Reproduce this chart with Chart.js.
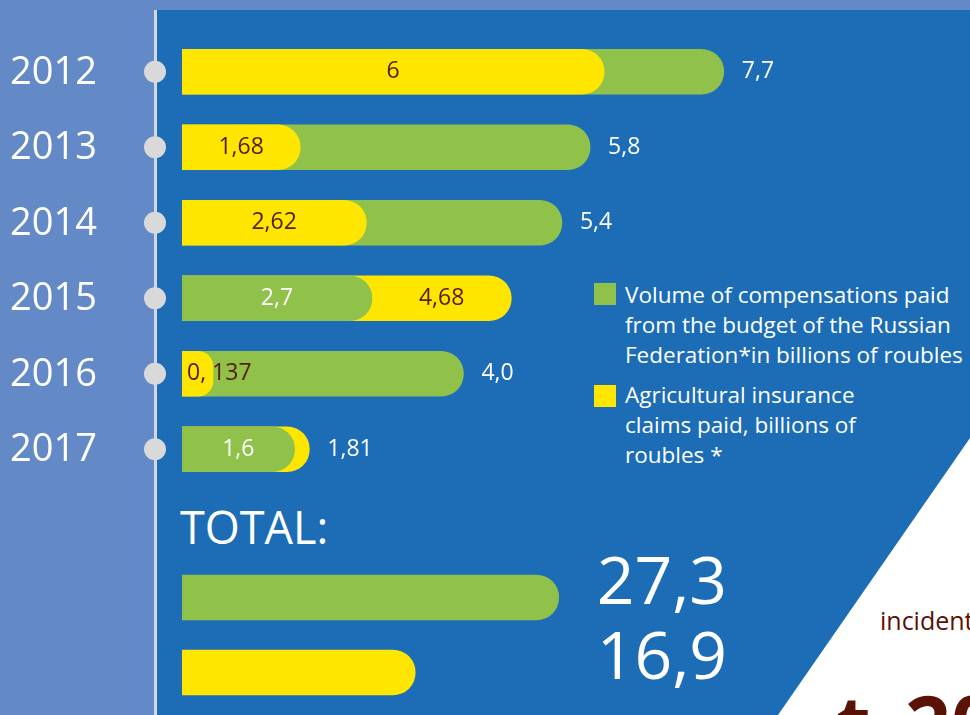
<!DOCTYPE html>
<html>
<head>
<meta charset="utf-8">
<script src="https://cdn.jsdelivr.net/npm/chart.js@4.4.0/dist/chart.umd.min.js"></script>
<style>
body{margin:0;width:970px;height:715px;overflow:hidden;background:#6389c6;font-family:"Open Sans",sans-serif;position:relative}
#dark{position:absolute;left:157px;top:10px;right:0;bottom:0;background:#1c6db6}
#tri{position:absolute;left:0;top:0;width:970px;height:715px;background:#fff;clip-path:polygon(970px 438px,970px 715px,778px 715px)}
#vline{position:absolute;left:154px;top:10px;width:3px;bottom:0;background:#d3d9e3}
.box{position:absolute;left:0;width:970px}
#years_box{top:0;height:495px}
#total_box{top:495px;height:220px}
#total_title{position:absolute;left:180px;top:497px;font-size:45px;color:#fff;line-height:60px}
.leg{position:absolute;left:594px;color:#fff;font-size:22.5px;line-height:30px}
.leg .sw{position:absolute;left:0;width:22px;height:22px}
.leg .lt{position:absolute;left:31px;white-space:nowrap}
#incid{position:absolute;left:880px;top:603px;font-size:25px;color:#5a1205;white-space:nowrap}
.big{position:absolute;top:683px;font-size:80px;line-height:80px;font-weight:bold;color:#5a1205}
</style>
</head>
<body>
<div id="dark"></div>
<div id="tri"></div>
<div id="vline"></div>
<div id="total_title">TOTAL:</div>
<div class="leg" style="top:283px"><span class="sw" style="background:#8fc14b"></span><div class="lt" style="top:-3px">Volume of compensations paid<br>from the budget of the Russian<br>Federation*in billions of roubles</div></div>
<div class="leg" style="top:385px"><span class="sw" style="background:#ffe600"></span><div class="lt" style="top:-5px">Agricultural insurance<br>claims paid, billions of<br>roubles *</div></div>
<div id="incid">incidents</div>
<div class="big" style="left:836px">t</div>
<div class="big" style="left:905px">20</div>
<div class="box" id="years_box"><canvas id="years_chart"></canvas></div>
<div class="box" id="total_box"><canvas id="total_chart"></canvas></div>
<script>
const years = ['2012', '2013', '2014', '2015', '2016', '2017'];
const budgetPaid = [7.7, 5.8, 5.4, 2.7, 4.0, 1.6];
const insurancePaid = [6, 1.68, 2.62, 4.68, 0.137, 1.81];
const budgetLabels = ['7,7', '5,8', '5,4', '2,7', '4,0', '1,6'];
const insuranceLabels = ['6', '1,68', '2,62', '4,68', '0, 137', '1,81'];

const totalNames = ['budget', 'insurance'];
const totalValues = [27.3, 16.9];
const totalLabels = ['27,3', '16,9'];

const GREEN = '#8fc14b';
const YELLOW = '#ffe600';
const DARKRED = '#5b1a08';

// the longer bar goes behind, the shorter one in front
let greenBack = [], backData = [], frontData = [], backColors = [], frontColors = [];
for (let i = 0; i < years.length; i++) {
    let gb = budgetPaid[i] >= insurancePaid[i];
    greenBack.push(gb);
    backData.push(gb ? budgetPaid[i] : insurancePaid[i]);
    frontData.push(gb ? insurancePaid[i] : budgetPaid[i]);
    backColors.push(gb ? GREEN : YELLOW);
    frontColors.push(gb ? YELLOW : GREEN);
}

Chart.defaults.font.family = '"Open Sans", sans-serif';

const yearDecor = {
    id: 'yearDecor',
    afterDatasetsDraw(chart) {
        const ctx = chart.ctx;
        const ys = chart.scales.y;
        const back = chart.getDatasetMeta(0).data;
        const front = chart.getDatasetMeta(1).data;
        ctx.save();
        for (let i = 0; i < years.length; i++) {
            let y = ys.getPixelForValue(i);
            // year label and dot
            ctx.fillStyle = '#fff';
            ctx.font = '38px "Open Sans"';
            ctx.textAlign = 'left';
            ctx.textBaseline = 'middle';
            ctx.fillText(years[i], 10, y + 1);
            ctx.fillStyle = '#d9d9d9';
            ctx.beginPath();
            ctx.arc(155, y, 11, 0, Math.PI * 2);
            ctx.fill();

            ctx.font = '23px "Open Sans"';
            let fb = front[i], bb = back[i];
            let fText = greenBack[i] ? insuranceLabels[i] : budgetLabels[i];
            let bText = greenBack[i] ? budgetLabels[i] : insuranceLabels[i];
            let fw = ctx.measureText(fText).width;
            ctx.fillStyle = greenBack[i] ? DARKRED : '#fff';
            if (fb.x - fb.base > fw + 10) {
                ctx.textAlign = 'center';
                ctx.fillText(fText, (fb.x + fb.base) / 2, y);
            } else {
                ctx.textAlign = 'left';
                ctx.fillText(fText, fb.base + 5, y);
            }
            let bw = ctx.measureText(bText).width;
            if (!greenBack[i] && bb.x - fb.x > bw + 20) {
                ctx.fillStyle = DARKRED;
                ctx.textAlign = 'center';
                ctx.fillText(bText, (bb.x + fb.x) / 2, y);
            } else {
                ctx.fillStyle = '#fff';
                ctx.textAlign = 'left';
                ctx.fillText(bText, bb.x + 18, y);
            }
        }
        ctx.restore();
    }
};

new Chart(document.getElementById('years_chart'), {
    type: 'bar',
    data: {
        labels: years,
        datasets: [{
            label: 'back',
            data: backData,
            backgroundColor: backColors,
            order: 1
        }, {
            label: 'front',
            data: frontData,
            backgroundColor: frontColors,
            minBarLength: 31,
            order: 0
        }]
    },
    options: {
        indexAxis: 'y',
        responsive: true,
        maintainAspectRatio: false,
        animation: false,
        layout: { padding: { left: 182, right: 14, top: 34, bottom: 8 } },
        datasets: { bar: { grouped: false, barThickness: 45, borderRadius: 23, borderSkipped: 'start' } },
        scales: {
            x: { display: false, min: 0, max: 11 },
            y: { display: false }
        },
        plugins: { legend: { display: false }, tooltip: { enabled: false } }
    },
    plugins: [yearDecor]
});

const totalDecor = {
    id: 'totalDecor',
    afterDatasetsDraw(chart) {
        const ctx = chart.ctx;
        const bars = chart.getDatasetMeta(0).data;
        ctx.save();
        ctx.fillStyle = '#fff';
        ctx.font = '66px "Open Sans"';
        ctx.textAlign = 'right';
        ctx.textBaseline = 'middle';
        for (let i = 0; i < bars.length; i++) {
            ctx.fillText(totalLabels[i], 727, bars[i].y - 12);
        }
        ctx.restore();
    }
};

new Chart(document.getElementById('total_chart'), {
    type: 'bar',
    data: {
        labels: totalNames,
        datasets: [{
            label: 'total',
            data: totalValues,
            backgroundColor: [GREEN, YELLOW],
            barThickness: 45,
            borderRadius: 23,
            borderSkipped: 'start'
        }]
    },
    options: {
        indexAxis: 'y',
        responsive: true,
        maintainAspectRatio: false,
        animation: false,
        layout: { padding: { left: 182, right: 98, top: 65, bottom: 5 } },
        scales: {
            x: { display: false, min: 0, max: 50 },
            y: { display: false }
        },
        plugins: { legend: { display: false }, tooltip: { enabled: false } }
    },
    plugins: [totalDecor]
});
</script>
</body>
</html>
